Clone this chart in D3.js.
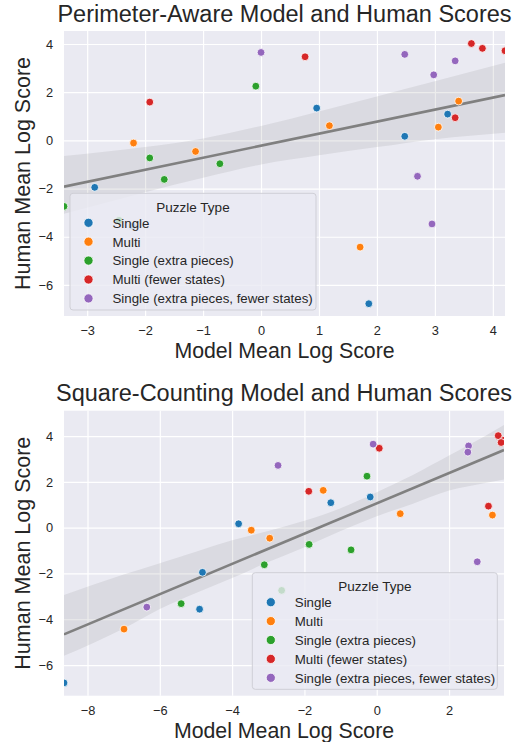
<!DOCTYPE html>
<html>
<head>
<meta charset="utf-8">
<script src="https://cdn.jsdelivr.net/npm/d3@7"></script>
<style>
  html, body { margin: 0; padding: 0; background: #ffffff; }
  svg { display: block; font-family: "Liberation Sans", Arial, sans-serif; }
</style>
</head>
<body>
<svg id="chart" width="519" height="742"></svg>
<script>
// ---------------- data ----------------
const categories = ["Single", "Multi", "Single (extra pieces)", "Multi (fewer states)", "Single (extra pieces, fewer states)"];
const categoryColors = ["#1f77b4", "#ff7f0e", "#2ca02c", "#d62728", "#9467bd"];

// one entry per puzzle
const puzzleType = [
  0, 0, 0, 0, 0, 0,
  1, 1, 1, 1, 1, 1,
  2, 2, 2, 2, 2, 2,
  3, 3, 3, 3, 3, 3,
  4, 4, 4, 4, 4, 4
];
const humanScore = [
  1.34, 1.09, 0.17, -1.95, -3.56, -6.78,
  1.63, 0.61, 0.55, -0.11, -0.46, -4.43,
  2.25, -0.73, -0.97, -1.62, -2.74, -3.32,
  3.47, 4.02, 3.82, 3.72, 1.59, 0.94,
  3.65, 3.57, 3.30, 2.72, -1.49, -3.47
];
const perimeterScore = [
  0.96, 3.22, 2.48, -2.87, -2.22, 1.86,
  3.41, 1.18, 3.06, -2.20, -1.13, 1.71,
  -0.09, -1.92, -0.71, -1.67, -3.40, -2.45,
  0.76, 3.63, 3.82, 4.21, -1.92, 3.35,
  0.00, 2.48, 3.35, 2.98, 2.70, 2.95
];
const squareScore = [
  -0.18, -1.27, -3.82, -4.82, -4.90, -8.65,
  -1.48, 0.65, 3.20, -3.47, -2.96, -6.99,
  -0.27, -1.87, -0.71, -3.11, -2.63, -5.41,
  0.07, 3.36, 3.52, 3.44, -1.88, 3.09,
  -0.10, 2.54, 2.52, -2.73, 2.78, -6.36
];

// regression fit (line endpoints) and confidence band
const perimFitX = [-3.40, 4.21];
const perimFitY = [-1.92, 1.88];
const perimBandX = [-3.40, -2.0, -1.0, 0.0, 1.0, 2.0, 3.0, 4.21];
const perimBandUpper = [-0.65, -0.28, 0.08, 0.60, 1.20, 1.82, 2.45, 3.22];
const perimBandLower = [-3.05, -2.15, -1.55, -1.00, -0.62, -0.28, 0.05, 0.32];

const squareFitX = [-8.65, 3.52];
const squareFitY = [-4.66, 3.39];
const squareBandX = [-8.65, -7, -6, -5, -4, -3, -2, -1, 0, 1, 2, 3, 3.52];
const squareBandUpper = [-2.94, -2.05, -1.55, -1.05, -0.55, -0.15, 0.30, 0.85, 1.55, 2.30, 3.15, 4.00, 4.48];
const squareBandLower = [-5.60, -4.40, -3.55, -2.85, -2.20, -1.50, -0.85, -0.15, 0.50, 1.05, 1.62, 1.95, 2.11];

const perimXTicks = [-3, -2, -1, 0, 1, 2, 3, 4];
const perimYTicks = [-6, -4, -2, 0, 2, 4];
const squareXTicks = [-8, -6, -4, -2, 0, 2];
const squareYTicks = [-6, -4, -2, 0, 2, 4];
const perimYDomain = [-7.29, 4.54];
const squareYDomain = [-7.34, 5.11];

// ---------------- drawing ----------------
const svg = d3.select("#chart");
const TEXT = "#262626";
const fmt = d3.format("d");

function panel(opts) {
  const { id, title, top, bottom, left, right, xs, xTicks, yTicks, yDomain,
          fitX, fitY, bandX, bandU, bandL, legend } = opts;
  const x = d3.scaleLinear().domain(d3.extent(xs)).range([left, right]);
  const y = d3.scaleLinear().domain(yDomain).range([bottom, top]);
  const g = svg.append("g");

  g.append("rect").attr("x", left).attr("y", top)
    .attr("width", right - left).attr("height", bottom - top)
    .attr("fill", "#EAEAF2");

  g.append("clipPath").attr("id", "clip" + id)
    .append("rect").attr("x", left).attr("y", top)
    .attr("width", right - left).attr("height", bottom - top);

  const xAxis = g.append("g").attr("transform", `translate(0,${bottom})`)
    .call(d3.axisBottom(x).tickValues(xTicks).tickFormat(fmt)
      .tickSize(-(bottom - top)).tickPadding(10));
  const yAxis = g.append("g").attr("transform", `translate(${left},0)`)
    .call(d3.axisLeft(y).tickValues(yTicks).tickFormat(fmt)
      .tickSize(-(right - left)).tickPadding(11));
  [xAxis, yAxis].forEach(a => {
    a.select(".domain").remove();
    a.selectAll(".tick line").attr("stroke", "#ffffff").attr("stroke-width", 1.2);
    a.selectAll(".tick text").attr("fill", TEXT).attr("font-size", 12.8)
      .attr("font-family", "Liberation Sans, Arial, sans-serif");
  });

  const plot = g.append("g").attr("clip-path", `url(#clip${id})`);

  const band = bandX.map((v, i) => ({ x: v, u: bandU[i], l: bandL[i] }));
  plot.append("path").datum(band)
    .attr("d", d3.area().curve(d3.curveMonotoneX)
      .x(d => x(d.x)).y0(d => y(d.l)).y1(d => y(d.u)))
    .attr("fill", "#808080").attr("fill-opacity", 0.15);

  plot.append("line")
    .attr("x1", x(fitX[0])).attr("y1", y(fitY[0]))
    .attr("x2", x(fitX[1])).attr("y2", y(fitY[1]))
    .attr("stroke", "#808080").attr("stroke-width", 2.6);

  plot.selectAll("circle").data(humanScore.map((h, i) => ({ h, m: xs[i], c: puzzleType[i] })))
    .join("circle")
    .attr("cx", d => x(d.m)).attr("cy", d => y(d.h)).attr("r", 3.9)
    .attr("fill", d => categoryColors[d.c])
    .attr("stroke", "#ffffff").attr("stroke-width", 0.8);

  g.append("text").attr("x", (left + right) / 2).attr("y", top - 9.5)
    .attr("text-anchor", "middle").attr("font-size", 23.5).attr("fill", TEXT).text(title);
  g.append("text").attr("x", (left + right) / 2).attr("y", bottom + 42)
    .attr("text-anchor", "middle").attr("font-size", 21.3).attr("fill", TEXT).text("Model Mean Log Score");
  g.append("text").attr("transform", `translate(30,${(top + bottom) / 2}) rotate(-90)`)
    .attr("text-anchor", "middle").attr("font-size", 21.5).attr("fill", TEXT).text("Human Mean Log Score");

  const L = legend;
  const lg = g.append("g");
  lg.append("rect").attr("x", L.x).attr("y", L.y).attr("width", L.w).attr("height", L.h)
    .attr("rx", 3).attr("fill", "#EAEAF2").attr("fill-opacity", 0.8)
    .attr("stroke", "#cfcfd6").attr("stroke-width", 1);
  lg.append("text").attr("x", L.x + L.w / 2).attr("y", L.y + 18.5)
    .attr("text-anchor", "middle").attr("font-size", 13.5).attr("fill", TEXT).text("Puzzle Type");
  categories.forEach((c, i) => {
    const cy = L.y + 29.5 + i * 18.9;
    lg.append("circle").attr("cx", L.x + 18.5).attr("cy", cy).attr("r", 4.6)
      .attr("fill", categoryColors[i]).attr("stroke", "#ffffff").attr("stroke-width", 0.8);
    lg.append("text").attr("x", L.x + 42.5).attr("y", cy + 4.8)
      .attr("font-size", 13.3).attr("fill", TEXT).text(c);
  });
}

panel({
  id: "a", title: "Perimeter-Aware Model and Human Scores",
  top: 31, bottom: 316, left: 64, right: 505,
  xs: perimeterScore, xTicks: perimXTicks, yTicks: perimYTicks, yDomain: perimYDomain,
  fitX: perimFitX, fitY: perimFitY, bandX: perimBandX, bandU: perimBandUpper, bandL: perimBandLower,
  legend: { x: 70, y: 193.3, w: 246, h: 116.7 }
});

panel({
  id: "b", title: "Square-Counting Model and Human Scores",
  top: 410.7, bottom: 695.7, left: 64, right: 504,
  xs: squareScore, xTicks: squareXTicks, yTicks: squareYTicks, yDomain: squareYDomain,
  fitX: squareFitX, fitY: squareFitY, bandX: squareBandX, bandU: squareBandUpper, bandL: squareBandLower,
  legend: { x: 252.3, y: 572.7, w: 245, h: 116.6 }
});
</script>
</body>
</html>
